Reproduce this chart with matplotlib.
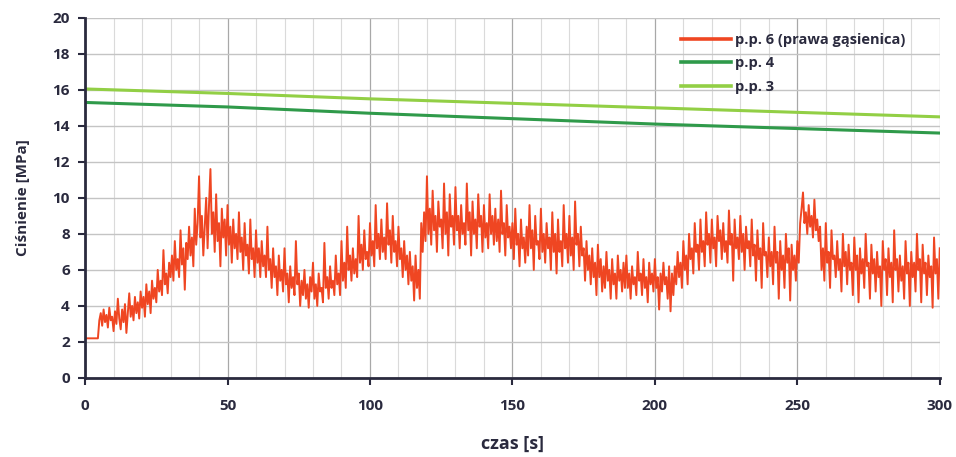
import numpy as np
import matplotlib
matplotlib.use('Agg')
import matplotlib.pyplot as plt
from matplotlib.ticker import MultipleLocator

# p.p. 6 (prawa gasienica), two readings per second
pp6 = [
    2.2, 2.2, 2.2, 2.2, 2.2, 2.2, 2.2, 2.2, 2.2, 2.2,
    3.2, 3.6, 2.9, 3.8, 3.1, 3.5, 2.8, 3.9, 3.2, 3.4,
    2.6, 3.7, 3.0, 4.4, 3.3, 2.7, 3.8, 3.1, 4.1, 2.5,
    3.6, 4.7, 3.4, 4.0, 3.2, 4.5, 3.6, 4.2, 3.3, 4.8,
    3.9, 4.5, 3.4, 5.2, 4.1, 4.8, 3.6, 5.4, 4.4, 5.0,
    4.2, 6.0, 4.8, 5.4, 4.6, 7.1, 5.2, 5.8, 4.7, 6.4,
    5.6, 6.8, 5.4, 7.6, 6.0, 6.6, 5.6, 8.2, 6.3, 7.2,
    4.9, 7.5, 6.6, 8.4, 6.8, 7.8, 6.2, 9.4, 7.4, 8.6,
    11.2, 7.8, 9.0, 6.8, 8.4, 10.0, 7.2, 9.6, 11.6, 8.0,
    9.2, 7.0, 10.2, 7.6, 8.6, 6.2, 9.4, 7.8, 8.8, 6.8,
    9.6, 7.4, 8.4, 6.4, 8.8, 7.2, 8.0, 6.6, 9.2, 7.0,
    7.8, 6.0, 8.6, 6.8, 7.4, 5.8, 8.8, 6.6, 7.2, 5.6,
    8.2, 6.4, 7.2, 5.6, 7.6, 6.2, 6.8, 5.6, 8.4, 6.0,
    6.6, 5.0, 7.2, 5.6, 6.2, 4.6, 6.8, 5.4, 6.0, 4.8,
    7.2, 5.2, 5.8, 4.2, 6.2, 5.0, 5.6, 4.6, 7.6, 5.2,
    5.8, 4.0, 5.4, 4.6, 6.0, 4.4, 5.2, 3.9, 5.6, 4.8,
    6.4, 4.4, 5.2, 4.0, 5.8, 4.8, 5.0, 4.2, 7.5, 5.0,
    5.6, 4.4, 6.2, 5.0, 5.4, 4.6, 6.8, 5.2, 5.8, 4.6,
    7.6, 5.4, 6.4, 5.0, 8.4, 6.0, 6.8, 5.4, 7.2, 5.8,
    6.6, 5.6, 9.0, 6.4, 7.4, 6.0, 8.2, 6.6, 7.0, 6.2,
    8.6, 6.8, 7.6, 6.2, 9.6, 7.2, 8.0, 6.6, 8.8, 7.0,
    7.8, 6.6, 9.7, 7.4, 8.2, 6.4, 9.0, 7.0, 7.6, 6.2,
    8.4, 6.6, 7.2, 5.6, 7.6, 6.0, 6.8, 5.2, 7.0, 5.4,
    6.2, 4.3, 6.8, 5.0, 6.0, 4.4, 8.6, 7.0, 9.2, 7.6,
    11.2, 8.0, 9.4, 7.4, 10.4, 8.2, 9.0, 7.0, 9.8, 8.4,
    8.8, 7.2, 10.8, 8.0, 9.2, 6.8, 10.2, 8.4, 9.0, 7.4,
    10.6, 8.2, 9.0, 7.2, 9.6, 8.0, 8.6, 7.4, 10.8, 8.2,
    9.2, 6.8, 9.8, 8.0, 8.8, 7.2, 10.2, 8.4, 9.0, 7.0,
    9.6, 7.8, 8.6, 7.2, 10.2, 8.0, 9.0, 7.4, 9.4, 7.6,
    8.8, 7.0, 10.4, 8.0, 8.6, 6.8, 9.6, 7.8, 8.4, 7.2,
    8.6, 6.6, 9.4, 7.4, 8.0, 6.2, 8.8, 7.2, 7.8, 6.4,
    8.4, 6.8, 9.6, 7.2, 8.2, 6.0, 9.0, 7.4, 7.6, 6.6,
    9.4, 7.0, 8.0, 6.4, 8.6, 7.2, 7.8, 6.0, 9.2, 7.0,
    8.0, 5.8, 8.8, 7.0, 7.6, 6.2, 9.6, 7.2, 8.0, 6.4,
    9.0, 6.8, 7.8, 6.0, 9.8, 7.4, 8.0, 6.2, 8.4, 6.8,
    7.2, 5.4, 7.6, 6.0, 6.8, 5.2, 7.2, 5.6, 6.4, 4.6,
    7.4, 5.6, 6.6, 4.8, 6.2, 5.0, 7.0, 5.4, 6.0, 4.4,
    6.6, 5.2, 5.8, 4.4, 6.8, 5.4, 6.0, 4.8, 6.4, 5.0,
    6.8, 5.0, 5.8, 4.4, 6.2, 5.2, 5.6, 4.6, 7.0, 5.4,
    5.8, 4.6, 6.6, 5.0, 5.6, 4.2, 6.4, 5.2, 5.8, 4.8,
    6.6, 5.0, 5.6, 3.8, 5.8, 4.8, 6.4, 5.2, 5.6, 4.4,
    6.2, 3.7, 5.8, 4.6, 6.2, 5.2, 7.0, 5.6, 6.4, 5.0,
    7.6, 6.0, 6.8, 5.2, 8.0, 6.6, 7.2, 5.8, 8.6, 7.0,
    7.4, 6.0, 8.8, 7.0, 7.6, 6.2, 9.2, 7.4, 8.0, 6.4,
    8.8, 7.2, 7.8, 6.2, 9.0, 7.6, 8.2, 6.6, 8.6, 7.0,
    7.6, 6.4, 9.3, 7.4, 8.0, 5.4, 8.8, 7.2, 7.8, 6.6,
    9.0, 7.0, 8.0, 6.0, 8.4, 7.2, 7.6, 6.2, 8.8, 6.8,
    7.4, 5.4, 8.2, 6.6, 7.2, 5.0, 8.6, 6.8, 7.0, 5.6,
    7.8, 6.2, 7.0, 5.2, 8.4, 6.4, 7.0, 4.4, 7.6, 6.0,
    6.8, 5.0, 8.0, 6.4, 7.2, 4.3, 7.4, 6.0, 6.8, 5.4,
    7.6, 6.4, 8.6, 9.4, 10.3, 8.6, 9.2, 8.0, 9.6, 8.4,
    9.0, 7.8, 9.9, 8.2, 8.8, 7.6, 8.4, 6.0, 7.2, 5.4,
    8.6, 6.4, 7.0, 5.0, 8.2, 6.6, 6.8, 5.6, 7.6, 6.0,
    6.6, 4.8, 8.0, 6.2, 7.0, 5.2, 7.4, 6.0, 6.4, 4.6,
    7.8, 6.0, 6.8, 4.2, 7.2, 5.8, 6.6, 5.0, 8.0, 6.2,
    6.4, 4.4, 7.4, 5.8, 6.6, 4.8, 7.0, 5.6, 6.2, 4.0,
    7.6, 6.0, 6.6, 4.6, 7.2, 5.6, 6.4, 4.2, 8.2, 6.0,
    6.6, 4.8, 6.8, 5.4, 6.2, 4.4, 7.6, 5.8, 6.4, 4.0,
    7.0, 5.6, 6.4, 4.8, 8.0, 6.0, 6.6, 4.2, 7.4, 5.8,
    6.4, 4.6, 6.8, 5.6, 6.2, 3.9, 7.8, 5.8, 6.6, 4.4,
    7.2,
]
t6 = np.arange(len(pp6)) * 0.5

t_slow = [0, 50, 100, 150, 200, 250, 300]
pp4 = [15.3, 15.05, 14.7, 14.4, 14.1, 13.85, 13.6]
pp3 = [16.05, 15.8, 15.5, 15.25, 15.0, 14.75, 14.5]

dark = '#2a2a3e'
plt.rcParams['font.family'] = ['Open Sans', 'DejaVu Sans']

fig = plt.figure(figsize=(9.56, 4.57), dpi=100)
ax = fig.add_axes([0.089, 0.173, 0.894, 0.788])

ax.plot(t6, pp6, color='#ef4622', lw=1.4, label='p.p. 6 (prawa gąsienica)')
ax.plot(t_slow, pp4, color='#2f9a4a', lw=2.2, label='p.p. 4')
ax.plot(t_slow, pp3, color='#92cf45', lw=2.2, label='p.p. 3')

ax.set_xlim(0, 300)
ax.set_ylim(0, 20)
ax.xaxis.set_major_locator(MultipleLocator(50))
ax.xaxis.set_minor_locator(MultipleLocator(10))
ax.yaxis.set_major_locator(MultipleLocator(2))
ax.grid(True, which='major', axis='x', color='#a8a8a8', lw=0.9)
ax.grid(True, which='minor', axis='x', color='#dadada', lw=0.8)
ax.grid(True, which='major', axis='y', color='#c4c4c4', lw=1.0)
ax.set_axisbelow(True)

for s in ['top', 'right']:
    ax.spines[s].set_visible(False)
for s in ['left', 'bottom']:
    ax.spines[s].set_color(dark)
    ax.spines[s].set_linewidth(2)

ax.tick_params(which='major', direction='out', length=5, width=1.5, color=dark,
               labelsize=11, labelcolor=dark, pad=6)
ax.tick_params(which='minor', length=0)
for lab in ax.get_xticklabels() + ax.get_yticklabels():
    lab.set_fontweight('bold')
ax.tick_params(axis='x', pad=10)

ax.set_xlabel('czas [s]', fontsize=13, fontweight='bold', color=dark, labelpad=16)
ax.set_ylabel('Ciśnienie [MPa]', fontsize=11, fontweight='bold', color=dark, labelpad=16)

leg = ax.legend(loc='upper right', bbox_to_anchor=(0.975, 0.995), frameon=False,
                fontsize=10.5, handlelength=3.4, labelspacing=0.65, handletextpad=0.3)
for txt in leg.get_texts():
    txt.set_fontweight('bold')
    txt.set_color(dark)
for h in leg.get_lines():
    h.set_linewidth(2.6)

fig.savefig('out.png', dpi=100)
